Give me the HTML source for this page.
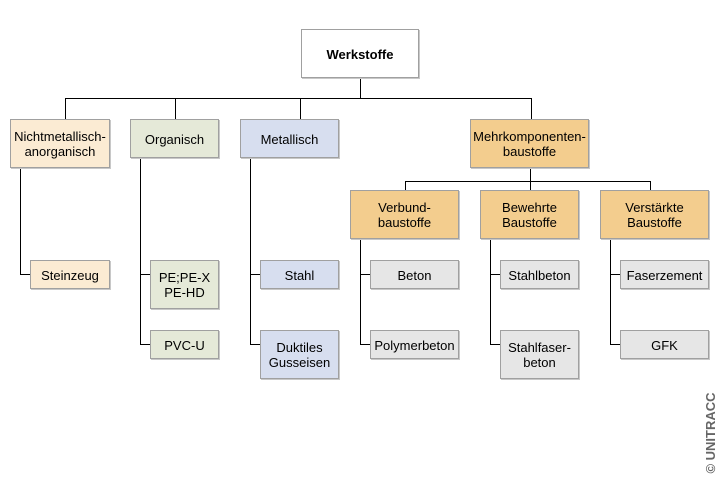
<!DOCTYPE html>
<html><head><meta charset="utf-8"><style>
body{margin:0;width:720px;height:480px;background:#fff;position:relative;overflow:hidden;font-family:"Liberation Sans",Arial,sans-serif;font-size:13px;color:#000}
.b{position:absolute;box-sizing:border-box;border:1px solid #a0a0a0;box-shadow:1px 1px 0 #c8c8c8;display:flex;align-items:center;justify-content:center;text-align:center;line-height:15px;padding-top:1px}
.l{position:absolute;background:#000}
.y{background:#fbebd3}.g{background:#e5e9d8}.bl{background:#d7deef}.o{background:#f3cd8e}.gr{background:#e6e6e6}
</style></head><body>
<div class="l" style="left:360px;top:78px;width:1px;height:21px"></div>
<div class="l" style="left:65px;top:98px;width:467px;height:1px"></div>
<div class="l" style="left:65px;top:98px;width:1px;height:21px"></div>
<div class="l" style="left:175px;top:98px;width:1px;height:21px"></div>
<div class="l" style="left:300px;top:98px;width:1px;height:21px"></div>
<div class="l" style="left:531px;top:98px;width:1px;height:21px"></div>
<div class="l" style="left:530px;top:168px;width:1px;height:22px"></div>
<div class="l" style="left:405px;top:181px;width:246px;height:1px"></div>
<div class="l" style="left:405px;top:181px;width:1px;height:9px"></div>
<div class="l" style="left:650px;top:181px;width:1px;height:9px"></div>
<div class="l" style="left:20px;top:168px;width:1px;height:107px"></div>
<div class="l" style="left:20px;top:274px;width:10px;height:1px"></div>
<div class="l" style="left:140px;top:158px;width:1px;height:187px"></div>
<div class="l" style="left:140px;top:274px;width:10px;height:1px"></div>
<div class="l" style="left:140px;top:344px;width:10px;height:1px"></div>
<div class="l" style="left:250px;top:158px;width:1px;height:187px"></div>
<div class="l" style="left:250px;top:274px;width:10px;height:1px"></div>
<div class="l" style="left:250px;top:344px;width:10px;height:1px"></div>
<div class="l" style="left:360px;top:239px;width:1px;height:106px"></div>
<div class="l" style="left:360px;top:274px;width:10px;height:1px"></div>
<div class="l" style="left:360px;top:344px;width:10px;height:1px"></div>
<div class="l" style="left:490px;top:239px;width:1px;height:106px"></div>
<div class="l" style="left:490px;top:274px;width:10px;height:1px"></div>
<div class="l" style="left:490px;top:344px;width:10px;height:1px"></div>
<div class="l" style="left:610px;top:239px;width:1px;height:106px"></div>
<div class="l" style="left:610px;top:274px;width:10px;height:1px"></div>
<div class="l" style="left:610px;top:344px;width:10px;height:1px"></div>
<div class="b" style="left:301px;top:29px;width:118px;height:49px;font-weight:bold;background:#fff">Werkstoffe</div>
<div class="b y" style="left:10px;top:119px;width:100px;height:49px">Nichtmetallisch-<br>anorganisch</div>
<div class="b g" style="left:130px;top:119px;width:89px;height:39px">Organisch</div>
<div class="b bl" style="left:240px;top:119px;width:99px;height:39px">Metallisch</div>
<div class="b o" style="left:470px;top:119px;width:119px;height:49px">Mehrkomponenten-<br>baustoffe</div>
<div class="b o" style="left:350px;top:190px;width:109px;height:49px">Verbund-<br>baustoffe</div>
<div class="b o" style="left:480px;top:190px;width:99px;height:49px">Bewehrte<br>Baustoffe</div>
<div class="b o" style="left:600px;top:190px;width:109px;height:49px">Verstärkte<br>Baustoffe</div>
<div class="b y" style="left:30px;top:260px;width:80px;height:29px">Steinzeug</div>
<div class="b g" style="left:150px;top:260px;width:69px;height:49px">PE;PE-X<br>PE-HD</div>
<div class="b g" style="left:150px;top:330px;width:69px;height:29px">PVC-U</div>
<div class="b bl" style="left:260px;top:260px;width:79px;height:29px">Stahl</div>
<div class="b bl" style="left:260px;top:330px;width:79px;height:49px">Duktiles<br>Gusseisen</div>
<div class="b gr" style="left:370px;top:260px;width:89px;height:29px">Beton</div>
<div class="b gr" style="left:370px;top:330px;width:89px;height:29px">Polymerbeton</div>
<div class="b gr" style="left:500px;top:260px;width:79px;height:29px">Stahlbeton</div>
<div class="b gr" style="left:500px;top:330px;width:79px;height:49px">Stahlfaser-<br>beton</div>
<div class="b gr" style="left:620px;top:260px;width:89px;height:29px">Faserzement</div>
<div class="b gr" style="left:620px;top:330px;width:89px;height:29px">GFK</div>
<div style="position:absolute;left:669px;top:426px;width:84px;height:14px;transform:rotate(-90deg);font-size:13px;font-weight:bold;line-height:14px;color:#666;white-space:nowrap;text-align:center">© UNITRACC</div>
</body></html>
